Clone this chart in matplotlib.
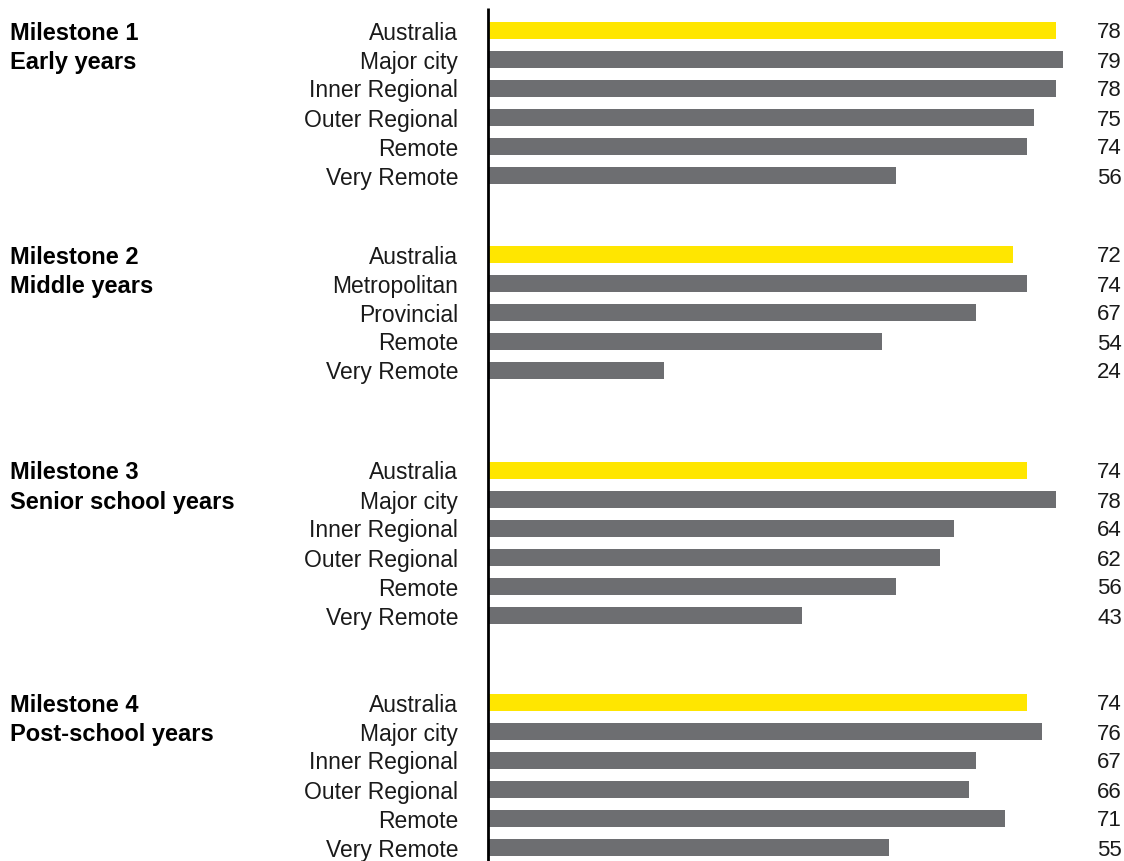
import numpy as np
import matplotlib.pyplot as plt

plt.rcParams['font.family'] = ['Liberation Sans', 'DejaVu Sans']

# four milestones, each with its own set of regions
milestones = ["Milestone 1\nEarly years", "Milestone 2\nMiddle years",
              "Milestone 3\nSenior school years", "Milestone 4\nPost-school years"]

m1_labels = ["Australia", "Major city", "Inner Regional", "Outer Regional", "Remote", "Very Remote"]
m1_values = [78, 79, 78, 75, 74, 56]

m2_labels = ["Australia", "Metropolitan", "Provincial", "Remote", "Very Remote"]
m2_values = [72, 74, 67, 54, 24]

m3_labels = ["Australia", "Major city", "Inner Regional", "Outer Regional", "Remote", "Very Remote"]
m3_values = [74, 78, 64, 62, 56, 43]

m4_labels = ["Australia", "Major city", "Inner Regional", "Outer Regional", "Remote", "Very Remote"]
m4_values = [74, 76, 67, 66, 71, 55]

groups = [(m1_labels, m1_values), (m2_labels, m2_values),
          (m3_labels, m3_values), (m4_labels, m4_values)]

YELLOW = "#FFE600"
GREY = "#6D6E71"

W, H = 1124, 861
fig = plt.figure(figsize=(W / 100, H / 100), dpi=100)

# y axis in pixel rows, x axis in percent
x0 = 488 / W
ax = fig.add_axes([x0, 0, 1 - x0, 1])
px_per_unit = 7.27
ax.set_xlim(0, (W - 488) / px_per_unit)
ax.set_ylim(H, 0)
ax.axis("off")

group_top = [30.5, 254.5, 470.5, 702.5]
row_step = 29
bar_h = 17

for g, (labels, values) in enumerate(groups):
    ys = group_top[g] + row_step * np.arange(len(values))
    colors = [YELLOW] + [GREY] * (len(values) - 1)
    ax.barh(ys, values, height=bar_h, color=colors, left=0.15)
    for y, lab, v in zip(ys, labels, values):
        fig.text(458 / W, 1 - y / H, lab, ha="right", va="center_baseline",
                 fontsize=16.5, color="#1a1a1a")
        fig.text(1122 / W, 1 - y / H, str(v), ha="right", va="center_baseline",
                 fontsize=16, color="#1a1a1a")
    title1, title2 = milestones[g].split("\n")
    fig.text(10 / W, 1 - ys[0] / H, title1, ha="left", va="center_baseline",
             fontsize=17, fontweight="bold", color="black")
    fig.text(10 / W, 1 - ys[1] / H, title2, ha="left", va="center_baseline",
             fontsize=17, fontweight="bold", color="black")

# vertical baseline
ax.plot([0, 0], [8, H], color="black", lw=2, solid_capstyle="butt", clip_on=False)

fig.savefig("out.png", dpi=100)
